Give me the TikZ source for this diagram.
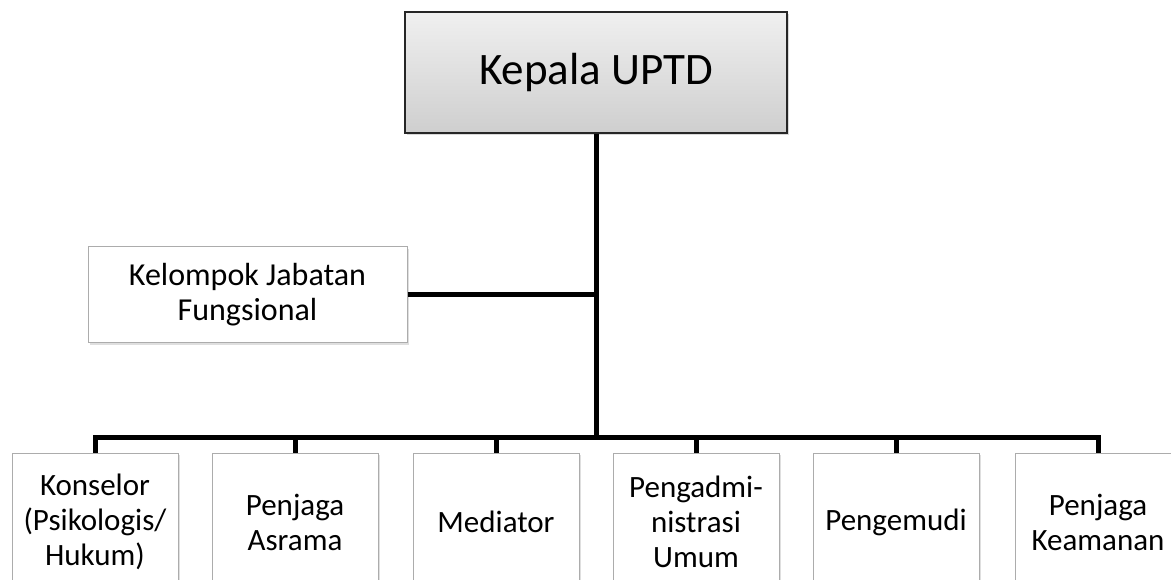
\documentclass[tikz,border=0pt]{standalone}
\usepackage{fontspec}
\setmainfont{Carlito}
\usetikzlibrary{shadows}

\tikzset{
  unitbox/.style={draw=gray!65, line width=1pt, fill=white, align=center,
    inner sep=0pt, minimum width=166pt, minimum height=138pt,
    font=\fontsize{31}{35}\selectfont,
    drop shadow={opacity=0.25, shadow xshift=2pt, shadow yshift=-2pt}},
  link/.style={line width=5pt, line join=miter},
}

\begin{document}
\begin{tikzpicture}[x=1pt,y=-1pt]
\useasboundingbox (0,0) rectangle (1171,580);
\clip (0,0) rectangle (1171,580);
\node[draw=black!85, line width=1.5pt, top color=gray!12, bottom color=gray!38,
  minimum width=382pt, minimum height=121pt, inner sep=0pt,
  font=\fontsize{45}{54}\selectfont,
  drop shadow={opacity=0.3, shadow xshift=2pt, shadow yshift=-2pt}] (kepala) at (596,72.5) {Kepala UPTD};
\node[unitbox, minimum width=319pt, minimum height=96pt, font=\fontsize{32}{35}\selectfont] (kelompok) at (247.5,295) {Kelompok Jabatan\\Fungsional};
\coordinate (bar) at (596,437);
\node[unitbox] (konselor) at (95,522) {Konselor\\(Psikologis/\\Hukum)};
\node[unitbox] (asrama) at (295,522) {Penjaga\\Asrama};
\node[unitbox] (mediator) at (496,522) {Mediator};
\node[unitbox] (admin) at (696,522) {Pengadmi-\\nistrasi\\Umum};
\node[unitbox] (pengemudi) at (896,522) {Pengemudi};
\node[unitbox] (keamanan) at (1098,522) {Penjaga\\Keamanan};
\draw[link] (kepala.south) -- (bar);
\draw[link] (kelompok.east) -- (kelompok.east -| bar);
\draw[link] (konselor.north) -- (konselor.north |- bar) -- (keamanan.north |- bar) -- (keamanan.north);
\foreach \n in {asrama,mediator,admin,pengemudi}
  \draw[link] (\n.north |- bar) -- (\n.north);
\end{tikzpicture}
\end{document}
